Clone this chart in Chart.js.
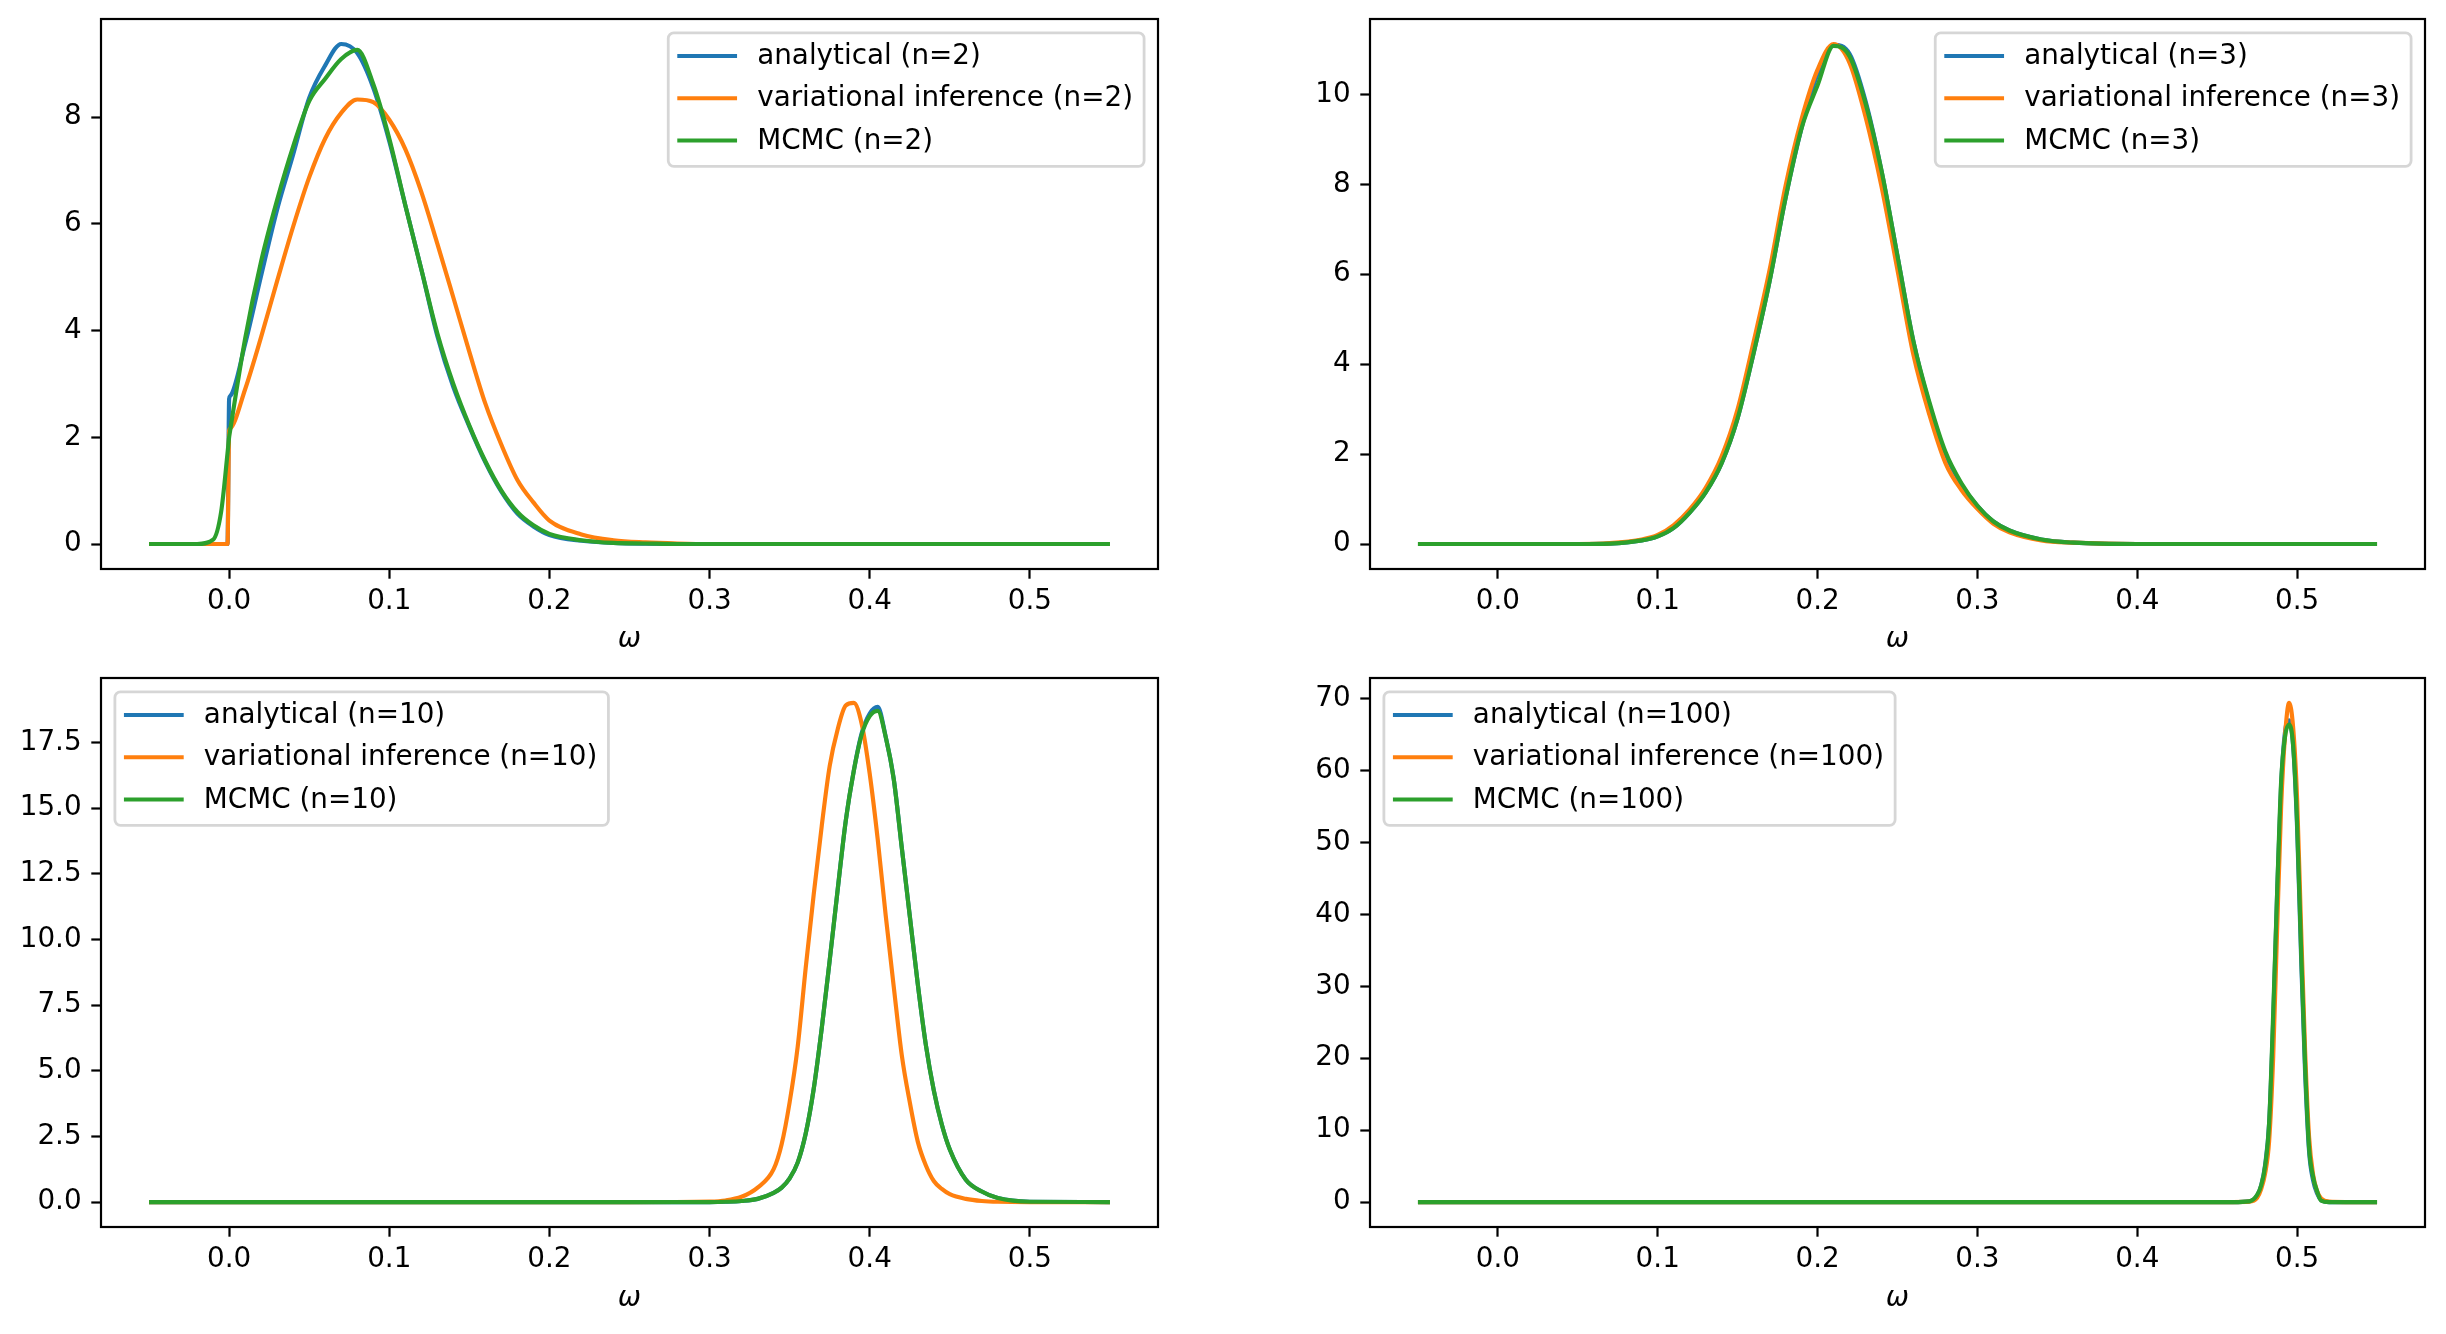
<!DOCTYPE html>
<html>
<head>
<meta charset="utf-8">
<script src="https://cdn.jsdelivr.net/npm/chart.js@4.4.1/dist/chart.umd.min.js"></script>
<style>
  html, body { margin: 0; padding: 0; background: #fff; }
  #fig { position: relative; width: 2446px; height: 1334px; background: #fff; }
  #fig canvas { position: absolute; }
</style>
</head>
<body>
<div id="fig">
  <canvas id="cN2" width="1223" height="667" style="left:0;top:0"></canvas>
  <canvas id="cN3" width="1223" height="667" style="left:1223px;top:0"></canvas>
  <canvas id="cN10" width="1223" height="667" style="left:0;top:667px"></canvas>
  <canvas id="cN100" width="1223" height="667" style="left:1223px;top:667px"></canvas>
</div>
<script>
// ---- data ----
const xTicks = [0, 0.1, 0.2, 0.3, 0.4, 0.5];
const xTickLabels = ["0.0", "0.1", "0.2", "0.3", "0.4", "0.5"];

// n = 2
const omegaN2 = [-0.05, -0.02, -0.01, -0.005, -0.001, 0, 0.0005, 0.01, 0.02, 0.03, 0.04, 0.05, 0.06, 0.07, 0.08, 0.09, 0.1,
  0.11, 0.12, 0.13, 0.14, 0.15, 0.16, 0.17, 0.18, 0.19, 0.2, 0.22, 0.24, 0.26, 0.28, 0.3, 0.35, 0.4, 0.55];
const analyticalN2 = [0, 0, 0, 0, 0, 2.72, 2.77, 3.75, 5.03, 6.27, 7.3, 8.36, 8.97, 9.37, 9.2, 8.55, 7.55,
  6.35, 5.15, 3.9, 2.94, 2.2, 1.53, 0.98, 0.57, 0.33, 0.17, 0.06, 0.02, 0.005, 0, 0, 0, 0, 0];
const variationalN2 = [0, 0, 0, 0, 0, 2.12, 2.16, 2.9, 3.88, 4.93, 5.95, 6.87, 7.6, 8.08, 8.33, 8.28, 7.95,
  7.4, 6.6, 5.63, 4.62, 3.6, 2.63, 1.86, 1.2, 0.78, 0.44, 0.18, 0.07, 0.03, 0.01, 0, 0, 0, 0];
const mcmcN2 = [0, 0, 0.08, 0.6, 1.7, 2.0, 2.1, 3.85, 5.3, 6.45, 7.45, 8.3, 8.72, 9.09, 9.26, 8.62, 7.6,
  6.35, 5.15, 3.95, 3.0, 2.22, 1.55, 1.0, 0.6, 0.35, 0.19, 0.07, 0.02, 0.01, 0, 0, 0, 0, 0];
const yTicksN2 = [0, 2, 4, 6, 8];
const yLabelsN2 = ["0", "2", "4", "6", "8"];

// n = 3
const omegaN3 = [-0.05, 0, 0.05, 0.07, 0.09, 0.1, 0.11, 0.12, 0.13, 0.14, 0.15, 0.16, 0.17, 0.18, 0.19, 0.2,
  0.21, 0.22, 0.23, 0.24, 0.25, 0.26, 0.27, 0.28, 0.29, 0.3, 0.31, 0.32, 0.34, 0.36, 0.4, 0.55];
const analyticalN3 = [0, 0, 0, 0.01, 0.08, 0.17, 0.36, 0.7, 1.15, 1.8, 2.8, 4.25, 5.85, 7.7, 9.25, 10.45,
  11.1, 10.9, 9.85, 8.3, 6.4, 4.5, 3.1, 2.0, 1.32, 0.85, 0.5, 0.3, 0.1, 0.03, 0, 0];
const variationalN3 = [0, 0, 0, 0.02, 0.1, 0.2, 0.42, 0.77, 1.25, 1.95, 3.0, 4.5, 6.1, 7.97, 9.45, 10.55,
  11.12, 10.7, 9.5, 7.95, 6.09, 4.2, 2.87, 1.8, 1.2, 0.78, 0.45, 0.26, 0.08, 0.03, 0, 0];
const mcmcN3 = [0, 0, 0, 0.01, 0.08, 0.17, 0.36, 0.7, 1.15, 1.8, 2.8, 4.25, 5.85, 7.7, 9.25, 10.2,
  11.08, 10.85, 9.8, 8.3, 6.4, 4.5, 3.15, 2.05, 1.35, 0.85, 0.5, 0.3, 0.1, 0.03, 0, 0];
const yTicksN3 = [0, 2, 4, 6, 8, 10];
const yLabelsN3 = ["0", "2", "4", "6", "8", "10"];

// n = 10
const omegaN10 = [-0.05, 0.25, 0.3, 0.31, 0.32, 0.33, 0.34, 0.345, 0.35, 0.355, 0.36, 0.365, 0.37, 0.375, 0.38,
  0.385, 0.39, 0.395, 0.4, 0.405, 0.41, 0.415, 0.42, 0.425, 0.43, 0.435, 0.44, 0.445, 0.45, 0.46, 0.47, 0.48, 0.5, 0.55];
const analyticalN10 = [0, 0, 0, 0.01, 0.04, 0.12, 0.35, 0.55, 0.9, 1.5, 2.6, 4.3, 6.6, 9.2, 11.9,
  14.5, 16.4, 17.85, 18.6, 18.85, 17.7, 16.1, 13.5, 10.9, 8.3, 6.0, 4.25, 2.95, 2.0, 0.85, 0.4, 0.15, 0.01, 0];
const variationalN10 = [0, 0, 0.02, 0.06, 0.2, 0.55, 1.25, 2.2, 3.8, 5.9, 8.9, 11.7, 14.3, 16.6, 18.0,
  18.9, 19.0, 18.2, 16.3, 13.8, 10.9, 8.2, 5.6, 3.8, 2.3, 1.4, 0.8, 0.5, 0.3, 0.12, 0.04, 0.01, 0, 0];
const mcmcN10 = [0, 0, 0, 0.01, 0.04, 0.12, 0.35, 0.55, 0.9, 1.5, 2.6, 4.3, 6.6, 9.2, 11.9,
  14.5, 16.4, 17.8, 18.5, 18.7, 17.7, 16.1, 13.5, 10.9, 8.3, 6.0, 4.25, 2.95, 2.0, 0.85, 0.4, 0.15, 0.01, 0];
const yTicksN10 = [0, 2.5, 5, 7.5, 10, 12.5, 15, 17.5];
const yLabelsN10 = ["0.0", "2.5", "5.0", "7.5", "10.0", "12.5", "15.0", "17.5"];

// n = 100
const omegaN100 = [-0.05, 0.4, 0.46, 0.47, 0.475, 0.4775, 0.48, 0.4825, 0.485, 0.4875, 0.49, 0.4925,
  0.495, 0.4975, 0.5, 0.5025, 0.505, 0.5075, 0.51, 0.5125, 0.515, 0.52, 0.53, 0.55];
const analyticalN100 = [0, 0, 0, 0.1, 0.9, 2.3, 5.2, 11, 25, 43, 58, 65.5,
  67, 63.5, 52, 34, 18, 7, 3, 1.2, 0.3, 0, 0, 0];
const variationalN100 = [0, 0, 0, 0.05, 0.6, 1.8, 4.0, 8.5, 20, 38, 55, 65,
  69.4, 66, 56, 38, 21, 9, 3.8, 1.5, 0.5, 0.05, 0, 0];
const mcmcN100 = [0, 0, 0, 0.1, 1.0, 2.3, 5.0, 11, 26, 43, 58.5, 64.8,
  66.4, 63.5, 52.7, 35, 19, 7.5, 3.5, 1.5, 0.2, 0, 0, 0];
const yTicksN100 = [0, 10, 20, 30, 40, 50, 60, 70];
const yLabelsN100 = ["0", "10", "20", "30", "40", "50", "60", "70"];

const seriesNames = ["analytical", "variational inference", "MCMC"];
const seriesColors = ["#1f77b4", "#ff7f0e", "#2ca02c"];

// ---- style (matplotlib look at 200 dpi) ----
const FS = 27.8;          // 10pt
const LW = 4.17;          // 1.5pt
const SPINE = 2.2;        // 0.8pt
const TICK_LEN = 9.7;     // 3.5pt
const FONT = '"DejaVu Sans", sans-serif';
Chart.defaults.font.family = FONT;
Chart.defaults.font.size = FS;
Chart.defaults.color = "#000";

const framePlugin = {
  id: "mplFrame",
  afterDatasetsDraw(chart) {
    const a = chart.chartArea, ctx = chart.ctx;
    ctx.save();
    ctx.strokeStyle = "#000";
    ctx.lineWidth = SPINE;
    ctx.strokeRect(a.left, a.top, a.right - a.left, a.bottom - a.top);

    // legend inside the axes
    const loc = chart.options.plugins.mplLegend.loc;
    ctx.font = FS + "px " + FONT;
    const labels = chart.data.datasets.map(d => d.label);
    const textW = Math.max(...labels.map(l => ctx.measureText(l).width));
    const pad = 0.4 * FS, handle = 2 * FS, hpad = 0.8 * FS;
    const w = pad * 2 + handle + hpad + textW;
    const h = 4.8 * FS;
    const x = loc === "upper left" ? a.left + 0.5 * FS : a.right - 0.5 * FS - w;
    const y = a.top + 0.5 * FS;
    const r = 0.2 * FS;
    ctx.beginPath();
    ctx.moveTo(x + r, y);
    ctx.arcTo(x + w, y, x + w, y + h, r);
    ctx.arcTo(x + w, y + h, x, y + h, r);
    ctx.arcTo(x, y + h, x, y, r);
    ctx.arcTo(x, y, x + w, y, r);
    ctx.closePath();
    ctx.fillStyle = "rgba(255,255,255,0.8)";
    ctx.fill();
    ctx.strokeStyle = "rgba(204,204,204,0.8)";
    ctx.lineWidth = 2.78;
    ctx.stroke();

    chart.data.datasets.forEach((d, i) => {
      const cy = y + 0.83 * FS + i * 1.52 * FS;
      ctx.beginPath();
      ctx.strokeStyle = d.borderColor;
      ctx.lineWidth = LW;
      ctx.lineCap = "square";
      ctx.moveTo(x + pad, cy);
      ctx.lineTo(x + pad + handle, cy);
      ctx.stroke();
      ctx.fillStyle = "#000";
      ctx.textBaseline = "middle";
      ctx.textAlign = "left";
      ctx.fillText(d.label, x + pad + handle + hpad, cy + 1);
    });
    ctx.restore();
  }
};

function makeChart(id, n, omega, series, yTicks, yLabels, legendLoc, area, titlePad) {
  const W = 1223, H = 667;
  const allX = omega;
  const allY = series.flat();
  const xr = Math.max(...allX) - Math.min(...allX);
  const yr = Math.max(...allY) - Math.min(...allY);
  const xmin = Math.min(...allX) - 0.05 * xr, xmax = Math.max(...allX) + 0.05 * xr;
  const ymin = Math.min(...allY) - 0.05 * yr, ymax = Math.max(...allY) + 0.05 * yr;

  const datasets = series.map((vals, i) => ({
    label: seriesNames[i] + " (n=" + n + ")",
    data: omega.map((w, k) => ({ x: w, y: vals[k] })),
    borderColor: seriesColors[i],
    backgroundColor: seriesColors[i],
    borderWidth: LW,
    pointRadius: 0,
    borderJoinStyle: "round",
    cubicInterpolationMode: "monotone",
    fill: false,
    order: 3 - i
  }));

  new Chart(document.getElementById(id), {
    type: "line",
    data: { datasets },
    plugins: [framePlugin],
    options: {
      responsive: false,
      animation: false,
      events: [],
      layout: { padding: { left: 0, top: area.top, right: W - area.right, bottom: 0 } },
      plugins: {
        legend: { display: false },
        tooltip: { enabled: false },
        mplLegend: { loc: legendLoc }
      },
      scales: {
        x: {
          type: "linear",
          min: xmin,
          max: xmax,
          border: { display: false },
          grid: { drawOnChartArea: false, drawTicks: true, tickLength: TICK_LEN, tickWidth: SPINE, tickColor: "#000" },
          ticks: {
            autoSkip: false, maxRotation: 0, padding: 6, color: "#000",
            font: { size: FS, family: FONT },
            callback: (v, i) => xTickLabels[i]
          },
          afterBuildTicks: s => { s.ticks = xTicks.map(v => ({ value: v })); },
          afterFit: s => { s.height = H - area.bottom; s.paddingLeft = 0; s.paddingRight = 0; },
          title: {
            display: true, text: "ω", color: "#000",
            font: { size: FS, family: FONT, style: "italic" },
            padding: { top: 0, bottom: titlePad }
          }
        },
        y: {
          type: "linear",
          min: ymin,
          max: ymax,
          border: { display: false },
          grid: { drawOnChartArea: false, drawTicks: true, tickLength: TICK_LEN, tickWidth: SPINE, tickColor: "#000" },
          ticks: {
            autoSkip: false, padding: 9.7, color: "#000",
            font: { size: FS, family: FONT },
            callback: (v, i) => yLabels[i]
          },
          afterBuildTicks: s => { s.ticks = yTicks.map(v => ({ value: v })); },
          afterFit: s => { s.width = area.left; s.paddingTop = 0; s.paddingBottom = 0; }
        }
      }
    }
  });
}

makeChart("cN2", 2, omegaN2, [analyticalN2, variationalN2, mcmcN2], yTicksN2, yLabelsN2,
  "upper right", { left: 101, right: 1158, top: 19, bottom: 569 }, 10.3);
makeChart("cN3", 3, omegaN3, [analyticalN3, variationalN3, mcmcN3], yTicksN3, yLabelsN3,
  "upper right", { left: 147, right: 1202, top: 19, bottom: 569 }, 10.3);
makeChart("cN10", 10, omegaN10, [analyticalN10, variationalN10, mcmcN10], yTicksN10, yLabelsN10,
  "upper left", { left: 101, right: 1158, top: 11, bottom: 560 }, 18.8);
makeChart("cN100", 100, omegaN100, [analyticalN100, variationalN100, mcmcN100], yTicksN100, yLabelsN100,
  "upper left", { left: 147, right: 1202, top: 11, bottom: 560 }, 18.8);
</script>
</body>
</html>
